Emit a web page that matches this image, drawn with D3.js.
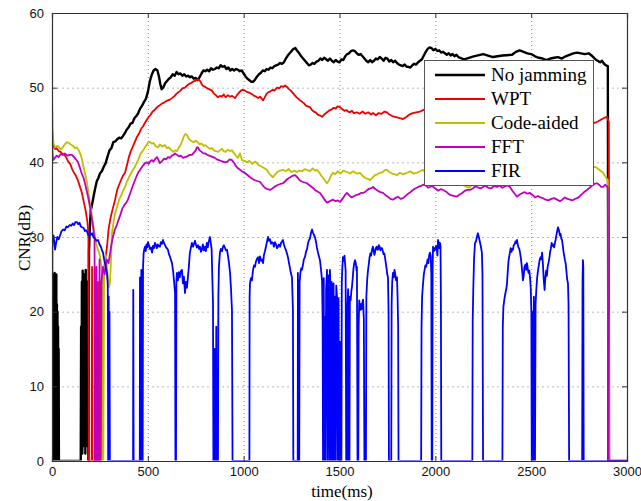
<!DOCTYPE html>
<html><head><meta charset="utf-8">
<script src="https://cdn.jsdelivr.net/npm/d3@7"></script>
<style>body{margin:0;background:#fff}svg{display:block}</style>
</head><body><svg id="c" width="641" height="501"></svg>
<script>
const xTicks=[0,500,1000,1500,2000,2500,3000];
const yTicks=[0,10,20,30,40,50,60];
const seriesNames=["No jamming","WPT","Code-aided","FFT","FIR"];
const seriesColors=["#000000","#ee0000","#bfbf00","#bf00bf","#0000ff"];

const noJamming=[[0,0],[1.5,22],[3,2],[4.5,24],[6,1],[7.5,25],[9,3],[10.5,23],[12,0],[13.5,25.2],[15,4],[16.5,24],[18,1],[19.5,22],[21,2],[22.5,25],[24,0],[25.5,21],[27,3],[28.5,20],[30,0],[31.5,18],[33,1],[34.5,15],[36,0],[150,0],[152,18],[154,2],[156,24],[158,1],[160,25.5],[162,3],[164,22],[166,2],[168,25],[170,4],[172,24],[174,1],[176,25.6],[178,3],[180,23],[182,2],[184,24],[186,5],[188,22],[190,0],[193,28],[197,31],[202,33.5],[210,34.5],[218,35.6],[226,36.6],[234,37.5],[242,37.9],[250,38.5],[260,38.8],[270,39.4],[280,39.9],[290,40.8],[300,41.6],[310,41.9],[320,42.7],[330,42.8],[340,43.1],[350,43.3],[360,43.2],[370,43.5],[380,43.9],[390,44.4],[400,44.7],[410,45.2],[420,45.3],[430,45.9],[440,46.2],[450,46.6],[460,47.2],[470,47.6],[480,48.1],[490,48.5],[500,49.4],[510,50.8],[520,51.7],[530,52.3],[540,52.5],[550,52.3],[558,51.5],[565,50.5],[572,49.8],[580,50],[590,50.6],[600,50.9],[610,51.2],[620,51.4],[630,51.8],[640,51.6],[650,52.1],[660,51.8],[670,51.9],[680,51.6],[690,51.8],[700,51.5],[710,51.6],[720,51.4],[730,51.5],[740,51.2],[750,51.3],[760,51],[770,51.4],[780,51.9],[790,52.3],[800,52.2],[810,52.4],[820,52.2],[830,52.6],[840,52.4],[850,52.5],[860,52.7],[870,52.6],[880,53],[890,52.8],[900,52.9],[910,52.5],[920,52.7],[930,52.3],[940,52.5],[950,52.3],[960,52.5],[970,52.4],[980,52.2],[990,52.3],[1000,51.9],[1010,51.5],[1020,51.2],[1030,51],[1040,50.8],[1050,50.8],[1060,51.1],[1070,51.5],[1080,51.8],[1090,52],[1100,52.3],[1110,52.2],[1120,52.5],[1130,52.4],[1140,52.7],[1150,52.6],[1160,52.9],[1170,53],[1180,53.1],[1190,53.3],[1200,53.2],[1210,53.4],[1220,53.9],[1230,54.3],[1240,54.6],[1250,54.9],[1260,55.2],[1270,55.3],[1280,54.9],[1290,54.6],[1300,54.2],[1310,53.9],[1320,53.6],[1330,53.3],[1340,53],[1350,53.1],[1360,53.3],[1370,53.2],[1380,53.5],[1390,53.6],[1400,53.9],[1410,53.7],[1420,54],[1430,53.8],[1440,53.6],[1450,53.9],[1460,53.6],[1470,53.4],[1480,53.7],[1490,53.5],[1500,53.4],[1510,53.8],[1520,53.7],[1530,54.2],[1540,54.5],[1550,54.6],[1560,54.9],[1570,55],[1580,54.9],[1590,54.6],[1600,54.4],[1610,54.5],[1620,54.2],[1630,53.9],[1640,53.6],[1650,53.4],[1660,53.7],[1670,53.4],[1680,53.6],[1690,53.9],[1700,53.8],[1710,54.1],[1720,53.9],[1730,53.6],[1740,54],[1750,53.9],[1760,53.5],[1770,53.7],[1780,53.4],[1790,53.6],[1800,53.3],[1810,53.1],[1820,53],[1830,52.9],[1840,53.1],[1850,52.8],[1860,52.8],[1870,52.7],[1880,53],[1890,53.2],[1900,53.1],[1910,53.4],[1920,53.6],[1930,53.8],[1940,54.3],[1950,54.8],[1960,55.2],[1970,55.4],[1980,55.3],[1990,55],[2000,55.2],[2010,54.9],[2020,55],[2030,54.7],[2040,54.8],[2050,54.6],[2060,54.4],[2070,54.6],[2080,54.3],[2090,54.5],[2100,54.2],[2110,54.4],[2120,54.1],[2150,53.8],[2200,54.2],[2250,54.5],[2300,54.1],[2350,54.3],[2400,54.4],[2420,54.8],[2440,55],[2460,54.8],[2480,54.6],[2500,54.5],[2520,54.2],[2540,54],[2560,53.9],[2580,53.7],[2600,53.9],[2620,54],[2640,54.1],[2660,53.9],[2680,54.2],[2700,54.4],[2720,54.6],[2740,54.7],[2760,54.6],[2780,54.5],[2800,54.6],[2820,54.2],[2840,53.7],[2860,53.4],[2870,53.6],[2880,53.2],[2890,53],[2900,52.9],[2903,0],[3000,0]];

const wpt=[[0,44.5],[5,42.3],[15,41.8],[25,41.9],[35,41.5],[45,41.4],[55,41.1],[65,41],[75,40.6],[85,40.1],[95,39.8],[105,39.1],[115,38.6],[125,38.2],[135,37.6],[145,36.8],[155,36],[165,34.8],[175,33.6],[185,32],[190,30.5],[192,0],[200,0],[207,0],[209,26],[211,0],[238,0],[240,24],[242,0],[250,0],[252,15],[258,20],[266,23],[276,26.5],[287,28.7],[295,31],[305,32.5],[315,33.6],[329,35],[340,36.3],[350,37],[360,37.6],[370,38.2],[381,38.6],[390,39.5],[400,40.6],[410,41.4],[420,42],[430,42.6],[443,43.4],[455,43.9],[465,44.5],[475,44.8],[485,45.3],[495,45.7],[505,46.1],[515,46.4],[525,46.8],[535,47],[545,47.3],[555,47.5],[565,47.7],[575,47.9],[585,48],[595,48.2],[605,48.3],[615,48.4],[626,48.6],[640,48.9],[650,49.2],[660,49.4],[670,49.6],[680,49.9],[694,50],[705,50.3],[715,50.5],[725,50.6],[735,50.8],[745,50.9],[755,51],[765,51.1],[775,50.8],[782,50.4],[790,50.2],[800,50.1],[810,49.9],[820,49.8],[835,49.6],[845,49.2],[855,49],[866,48.7],[876,48.9],[886,48.8],[896,49.1],[906,48.7],[918,49],[928,48.8],[940,48.9],[955,48.6],[965,49],[975,49.3],[985,49.6],[995,49.7],[1007,49.6],[1020,49.4],[1033,49.3],[1045,49.1],[1055,48.9],[1065,48.8],[1075,48.6],[1085,48.8],[1095,48.5],[1101,48.3],[1110,48.7],[1120,49.2],[1130,49.4],[1140,49.5],[1150,49.7],[1160,49.6],[1174,50],[1186,49.9],[1196,50.2],[1206,50.1],[1216,50.3],[1226,50.1],[1236,49.8],[1246,49.6],[1256,49.3],[1266,49],[1276,48.7],[1286,48.5],[1294,48.3],[1305,48.1],[1315,47.9],[1325,47.6],[1335,47.5],[1346,47.4],[1356,47],[1366,46.8],[1376,46.7],[1386,46.4],[1396,46.3],[1409,46.1],[1420,46.4],[1430,46.6],[1440,46.8],[1450,47],[1460,47.1],[1470,47.3],[1480,47.2],[1490,47.5],[1503,47.4],[1515,47.1],[1525,46.9],[1535,47],[1545,46.8],[1555,46.7],[1565,46.9],[1575,46.6],[1591,46.7],[1605,46.5],[1620,46.8],[1635,46.5],[1650,46.7],[1665,46.4],[1675,46.6],[1690,46.3],[1705,46.6],[1720,46.5],[1735,46.8],[1748,46.7],[1760,46.4],[1775,46.2],[1790,46.1],[1805,46],[1820,45.9],[1831,45.8],[1845,46],[1860,46.3],[1872,46.5],[1883,46.6],[1900,46.7],[1920,46.8],[1936,47],[1950,47.2],[1970,47],[2000,46.8],[2050,47],[2100,46.7],[2150,46.9],[2200,46.6],[2250,46.8],[2300,46.5],[2350,46.3],[2400,46.2],[2450,45.9],[2500,45.8],[2550,46],[2600,45.7],[2650,45.5],[2700,45.6],[2750,45.3],[2800,45.2],[2833,45.3],[2850,45.5],[2870,45.8],[2885,46],[2896,46.1],[2905,45.4],[2908,0],[3000,0]];

const codeAided=[[0,51],[2,44.6],[8,42.5],[16,42],[26,42.2],[36,42.1],[46,41.7],[56,42],[66,42.4],[78,42.7],[88,42.6],[98,42.4],[110,42.2],[120,41.9],[130,42],[140,41.6],[150,41],[157,40.3],[165,39.3],[175,38.2],[183,37.2],[192,35.6],[200,34.3],[209,32.7],[218,31.2],[226,29.8],[235,28.7],[250,27.5],[258,26],[262,25],[264,0],[268,0],[272,26],[280,27.6],[290,25],[298,23.3],[303,24],[308,27],[313,30.5],[320,31.8],[328,33],[339,34],[350,35],[360,35.5],[370,36.2],[381,36.7],[392,37.5],[402,38],[412,38.5],[422,39],[433,39.4],[443,40],[453,40.5],[463,41.2],[473,41.5],[485,42],[495,42.4],[505,42.8],[511,42.7],[520,42.5],[530,42.6],[540,42.2],[553,42],[563,42.4],[575,42.1],[590,42.3],[600,41.9],[610,42],[620,41.7],[632,41.4],[642,41.6],[652,41.5],[662,42],[672,42.4],[680,42.9],[688,43.5],[696,43.8],[704,43.7],[712,43.2],[720,43],[730,42.8],[740,42.7],[750,42.9],[760,42.7],[770,42.4],[780,42.5],[790,42.2],[800,42.3],[814,42],[825,41.8],[835,41.9],[845,41.6],[855,41.5],[866,41.4],[876,41.6],[886,41.8],[896,41.5],[906,41.4],[918,41.7],[928,41.5],[939,41.6],[950,41.2],[960,40.9],[970,40.6],[981,41.2],[991,40.3],[1005,40.2],[1017,40],[1030,40.2],[1045,39.8],[1058,40.1],[1069,39.9],[1080,39.6],[1095,39.4],[1108,39.2],[1121,39],[1130,38.6],[1140,38.3],[1153,38],[1165,38.4],[1175,38.7],[1190,38.9],[1205,39],[1220,38.8],[1235,39.1],[1250,38.7],[1265,38.9],[1278,38.7],[1290,38.9],[1305,38.8],[1318,39.1],[1330,39],[1345,38.8],[1360,39.2],[1372,38.9],[1383,39],[1395,38.6],[1405,38.2],[1415,37.9],[1425,37.5],[1435,37.2],[1445,37.6],[1455,38.2],[1466,38.6],[1478,38.4],[1490,38.8],[1505,38.5],[1520,38.9],[1539,38.7],[1555,38.5],[1570,38.8],[1590,38.5],[1607,38.6],[1620,38.2],[1635,37.9],[1648,37.8],[1659,37.6],[1670,37.9],[1685,38.3],[1698,38.4],[1711,38.6],[1725,38.7],[1737,39],[1748,39],[1760,38.7],[1775,38.5],[1789,38.4],[1800,38.3],[1815,38.6],[1830,38.4],[1852,38.6],[1870,38.8],[1885,38.5],[1904,38.6],[1920,38.8],[1936,39],[1950,38.6],[1965,38.4],[1980,38.2],[2050,38],[2100,37.6],[2150,36.9],[2175,36.6],[2200,37.2],[2250,37.8],[2300,38],[2400,38.2],[2500,38.3],[2600,38.1],[2700,38.5],[2800,39],[2820,39.3],[2833,39.4],[2845,39.2],[2860,38.9],[2875,38.6],[2890,38],[2900,37.6],[2905,0],[3000,0]];

const fft=[[0,51.5],[2,41.5],[5,40.3],[15,40.6],[25,40.9],[35,40.7],[45,41.1],[57,41],[67,41.2],[80,40.9],[92,41],[104,41],[115,40.7],[125,40.4],[136,40],[145,39.3],[155,38.5],[165,37.9],[172,37.2],[180,36.3],[188,35.4],[198,34],[207,32.6],[215,31.2],[222,29.8],[224,0],[230,0],[232,26],[234,0],[245,0],[248,27],[252,0],[255,0],[258,24],[265,26],[275,25],[285,27],[295,26.5],[303,27.8],[310,29],[318,30],[328,31],[338,31.6],[347,32.3],[357,33],[367,33.8],[378,34.3],[388,34.6],[396,35],[407,35.8],[418,36.6],[428,37.3],[439,38],[449,38.6],[460,39],[470,39.4],[485,39.9],[495,40],[505,39.8],[515,40.2],[522,40.3],[530,40.1],[540,40.5],[548,40.7],[556,40.3],[563,39.9],[575,40.2],[585,40.5],[595,40.4],[605,40.7],[615,40.6],[625,40.9],[635,41],[642,41.2],[652,41],[662,40.8],[672,40.9],[684,40.6],[694,40.7],[705,40.8],[718,41],[730,41],[740,41.3],[750,41.6],[756,42],[762,42],[770,41.6],[780,41.4],[790,41.2],[798,41.2],[810,41],[820,40.9],[830,40.8],[840,40.7],[850,40.6],[860,40.4],[870,40.3],[880,40.2],[892,40.1],[903,40],[915,40.1],[927,40.4],[939,40.3],[950,39.9],[960,39.5],[970,39.2],[981,39],[990,38.8],[1000,38.7],[1010,38.5],[1020,38.3],[1033,38],[1045,37.8],[1058,37.6],[1070,37.5],[1085,37.4],[1097,37],[1110,36.6],[1124,36.4],[1137,36.3],[1150,36.5],[1165,36.8],[1180,37],[1192,37.1],[1205,37.2],[1218,37.5],[1230,37.8],[1243,38],[1255,38.2],[1268,38.3],[1280,38],[1292,37.6],[1305,37.4],[1318,37.3],[1330,37.2],[1345,36.9],[1360,36.6],[1372,36.3],[1385,36.1],[1398,35.9],[1410,35.5],[1422,35],[1435,34.6],[1450,34.8],[1466,35],[1480,34.8],[1492,34.9],[1503,34.7],[1515,35.1],[1528,35.6],[1539,35.9],[1550,35.6],[1562,35.3],[1570,35.4],[1585,35.6],[1600,35.7],[1612,35.9],[1623,35.9],[1637,36.1],[1650,36.4],[1663,36.5],[1675,36.7],[1688,36.4],[1700,36.2],[1713,36],[1727,35.9],[1740,35.6],[1752,35.4],[1765,35.1],[1779,35],[1790,35.2],[1805,35.4],[1818,35.1],[1831,35.2],[1845,35.5],[1858,35.8],[1870,36],[1883,36.3],[1895,36.5],[1910,36.7],[1923,36.8],[1936,37],[1950,36.9],[1962,36.6],[1972,36.7],[1985,36.8],[2000,36.5],[2015,36.2],[2028,36.4],[2040,36.3],[2055,36.1],[2068,35.8],[2080,35.6],[2095,35.5],[2113,35.4],[2127,35.7],[2140,35.9],[2155,36.2],[2168,36.3],[2181,36.3],[2195,36.5],[2210,36.8],[2225,36.6],[2237,36.5],[2249,36.7],[2262,36.9],[2275,36.6],[2290,36.5],[2305,36.8],[2322,36.7],[2335,36.9],[2350,36.6],[2365,36.8],[2378,36.9],[2389,36.7],[2402,36.2],[2414,35.8],[2426,35.4],[2440,35.7],[2455,35.9],[2467,36],[2480,35.8],[2494,35.9],[2508,35.6],[2520,35.3],[2535,35.5],[2548,35.3],[2562,35.2],[2575,35],[2590,34.9],[2605,35.1],[2620,35.2],[2635,35],[2650,34.8],[2662,35],[2675,35.3],[2690,35.1],[2703,35],[2715,34.9],[2728,35.1],[2740,35.2],[2755,35.5],[2768,35.8],[2780,36.1],[2791,36.3],[2805,36.6],[2818,36.9],[2830,37.1],[2843,37.2],[2855,37],[2865,36.7],[2875,36.7],[2885,37],[2895,36.8],[2900,36.6],[2903,0],[3000,0]];

const fir=[[0,0],[2,29.9],[8,30.2],[13,29],[16,28.3],[22,29.3],[28,30],[35,29.7],[42,30.2],[50,30.8],[58,31],[66,30.9],[75,31.4],[83,31.3],[92,31.6],[100,31.5],[108,31.8],[115,31.6],[122,32],[130,32],[137,31.7],[144,31.9],[150,31.4],[157,31.3],[165,31.2],[172,30.8],[178,30.9],[183,30.7],[190,30.2],[197,30.6],[203,30.3],[209,30.5],[216,30],[224,29.8],[232,29.5],[240,29.6],[248,29],[255,28.7],[261,28.2],[266,27.9],[272,27],[277,26.4],[282,25.8],[287,25.2],[291,23.5],[293,0],[296,22],[298,0],[300,20],[302,0],[423,0],[424,22.9],[426,0],[458,0],[459,24.6],[461,0],[465,0],[466,25.6],[468,0],[473,0],[475,26],[478,27.8],[481,28.3],[485,28.7],[489,28.1],[493,29],[497,28.6],[501,29.3],[506,28.9],[511,28.4],[516,28.6],[522,27.9],[527,28.8],[532,28.5],[537,29.2],[542,28.9],[547,28.5],[552,29],[558,28.7],[563,28.7],[568,29.3],[574,29.1],[579,29.6],[584,29.2],[590,28.9],[595,28.6],[600,28.5],[605,28.3],[610,27.7],[615,27.4],[620,27],[626,26.5],[632,25.4],[637,24],[642,22.5],[644,0],[647,0],[649,24],[652,25.2],[657,24.2],[662,25.3],[667,24.6],[672,25.4],[678,25.6],[683,23.8],[688,24.7],[694,22.5],[698,24],[704,23.2],[709,24.6],[714,26],[719,27.8],[725,28.6],[730,29.2],[736,28.7],[741,29.1],[746,29.5],[751,29],[756,28.6],[762,28.9],[767,28.4],[772,28.7],[777,28],[782,28.3],[787,29],[792,28.2],[798,28.7],[803,28.1],[808,29.2],[813,28.6],[818,29.4],[824,30],[829,29.1],[833,28.3],[837,24],[840,21.2],[842,0],[846,0],[848,15],[850,0],[855,0],[857,18],[859,0],[866,0],[868,22],[871,26],[876,27.9],[881,28.4],[887,28.1],[892,28.7],[897,28.9],[903,28.5],[908,28.2],[913,28.3],[918,27.5],[923,26.6],[929,25.2],[934,23],[939,20.2],[942,0],[1030,0],[1031,22],[1033,23.8],[1038,24.5],[1043,24.2],[1049,25.6],[1054,26.2],[1059,26],[1064,26.7],[1070,27.1],[1075,27.3],[1080,26.5],[1085,27.4],[1091,26.8],[1096,27],[1101,26.5],[1106,27.6],[1111,28.1],[1117,28.8],[1122,29.4],[1127,30],[1132,29.5],[1137,29.7],[1143,29.1],[1148,29.3],[1153,29.2],[1158,28.7],[1163,29.3],[1169,29],[1174,28.5],[1179,28.7],[1184,29],[1190,28.7],[1195,29.2],[1200,29.4],[1205,29.6],[1210,29],[1215,28.6],[1221,28.2],[1226,27.8],[1231,27.3],[1236,26.6],[1241,25.9],[1246,25.2],[1252,24.6],[1255,22],[1257,20.2],[1259,0],[1282,0],[1283,25.2],[1285,0],[1290,0],[1292,24],[1296,25.2],[1300,25.8],[1304,25.6],[1309,26.2],[1314,27],[1320,27.3],[1325,28],[1331,28.4],[1336,29.2],[1341,29.6],[1346,29.8],[1350,30.4],[1354,30.8],[1357,31],[1361,30.6],[1366,30.3],[1372,30],[1377,29.4],[1382,28.6],[1388,27.9],[1393,27.4],[1398,26.9],[1403,25.8],[1409,24.2],[1412,19],[1414,0],[1416,22],[1418,24.5],[1420,0],[1424,19.3],[1427,0],[1430,23],[1435,25.6],[1438,0],[1441,22],[1445,24.9],[1448,0],[1450,25.6],[1453,23],[1456,0],[1459,24],[1462,22],[1464,0],[1466,22.5],[1469,23.8],[1471,0],[1474,20.5],[1477,22],[1479,0],[1483,23.5],[1487,22],[1490,0],[1492,20.2],[1495,21.8],[1498,0],[1502,16],[1505,0],[1510,0],[1512,24],[1515,26],[1518,27.3],[1522,26.8],[1526,27.5],[1529,26.5],[1532,25.5],[1535,0],[1540,0],[1542,21],[1545,23],[1548,0],[1552,0],[1554,22],[1558,21.5],[1562,22.8],[1565,23.3],[1569,24.5],[1573,25.8],[1577,26.5],[1581,26.9],[1585,26.5],[1589,25.5],[1591,26],[1594,0],[1598,0],[1600,18],[1603,21.5],[1607,20.2],[1611,21],[1615,20.3],[1619,21.2],[1623,21.6],[1627,19],[1630,0],[1638,0],[1640,22],[1645,24.5],[1649,25.6],[1653,26.4],[1657,27.3],[1661,27.8],[1665,27.5],[1670,28.3],[1674,28.7],[1678,28.2],[1682,27.6],[1685,27.9],[1689,28.5],[1694,28.7],[1698,28.3],[1701,28.3],[1705,28.9],[1709,28.7],[1713,28.2],[1717,28.5],[1722,28.5],[1726,28.1],[1730,27.7],[1734,27.8],[1737,27.3],[1741,26.6],[1745,25.9],[1749,25],[1753,24.6],[1756,20],[1758,0],[1770,0],[1772,21],[1775,24],[1779,25.2],[1783,24.6],[1787,25.6],[1791,25],[1795,24.2],[1800,24.6],[1803,22],[1806,18],[1808,0],[1926,0],[1928,18],[1931,22],[1936,23.8],[1940,25],[1944,25.6],[1948,26.2],[1952,26],[1956,26.5],[1960,27],[1964,26.5],[1968,27.6],[1972,27.9],[1976,27.5],[1979,25],[1981,0],[1984,0],[1986,26],[1988,28.7],[1992,28.1],[1996,28.5],[2000,28.3],[2004,28.8],[2008,28.3],[2011,27.5],[2014,29.6],[2018,29.2],[2021,28.5],[2024,29.2],[2027,28.8],[2029,22],[2031,0],[2193,0],[2195,19],[2198,23],[2202,27],[2207,29.2],[2212,29.4],[2217,30],[2222,30.5],[2227,30],[2232,29.4],[2237,28.8],[2241,28.2],[2243,27.9],[2246,25],[2249,0],[2350,0],[2352,18],[2355,20.6],[2360,21.6],[2365,22.4],[2370,23],[2374,23.8],[2378,25.5],[2382,26.8],[2386,27.5],[2389,27.9],[2393,28.5],[2397,28],[2401,28.4],[2405,28.3],[2409,28.9],[2413,29],[2418,29.4],[2422,29.2],[2426,29.6],[2430,29],[2434,28.6],[2438,28.4],[2442,27.9],[2446,27.2],[2450,26.3],[2454,25.2],[2457,24.2],[2461,24.8],[2465,26],[2470,26.3],[2474,25.6],[2478,26.5],[2482,25.8],[2486,25.2],[2490,25.5],[2494,24.6],[2498,23],[2501,20],[2503,0],[2506,0],[2508,20],[2511,0],[2514,22],[2516,0],[2520,0],[2523,21],[2527,23],[2531,24.5],[2536,25.6],[2540,26.2],[2544,26.9],[2549,27.3],[2553,27],[2557,27.9],[2561,26.5],[2565,24.5],[2570,22.9],[2574,24.5],[2578,25.5],[2582,24.8],[2586,26],[2590,26.5],[2595,27.2],[2599,28],[2603,28.5],[2607,29.2],[2611,28.8],[2616,29],[2620,28.6],[2624,29.2],[2628,29.7],[2632,30.3],[2636,30.8],[2640,31.3],[2645,30.9],[2650,30.2],[2654,30.4],[2657,29.8],[2661,29.6],[2665,28.8],[2669,28],[2673,27.4],[2676,26.9],[2680,26.5],[2684,25.4],[2688,24.3],[2692,23.8],[2695,21],[2698,0],[2766,0],[2768,24],[2770,26.9],[2772,26],[2774,0],[2900,0],[3000,0]];

const allSeries=[noJamming,wpt,codeAided,fft,fir];
const widths=[2.4,1.8,1.8,1.8,1.8];

const svg=d3.select("#c");
const L=52,R=627,T=13,B=461;
const x=d3.scaleLinear().domain([0,3000]).range([L,R]);
const y=d3.scaleLinear().domain([0,60]).range([B,T]);

svg.append("defs").append("clipPath").attr("id","clip").append("rect")
  .attr("x",L).attr("y",T-1).attr("width",R-L).attr("height",B-T+0.5);

// grid
const g=svg.append("g");
g.selectAll(".vg").data(xTicks.slice(1,-1)).enter().append("line")
  .attr("x1",d=>x(d)+0.5).attr("x2",d=>x(d)+0.5).attr("y1",T).attr("y2",B)
  .attr("stroke","#888").attr("stroke-width",1).attr("stroke-dasharray","1,3");
g.selectAll(".hg").data(yTicks.slice(1,-1)).enter().append("line")
  .attr("y1",d=>y(d)+0.5).attr("y2",d=>y(d)+0.5).attr("x1",L).attr("x2",R)
  .attr("stroke","#bbb").attr("stroke-width",1).attr("stroke-dasharray","2,3");

// series
const line=d3.line().x(d=>x(d[0])).y(d=>y(d[1]));
const lg=svg.append("g").attr("clip-path","url(#clip)");
allSeries.forEach((s,i)=>{
  lg.append("path").datum(s).attr("d",line).attr("fill","none")
    .attr("stroke",seriesColors[i]).attr("stroke-width",widths[i]).attr("stroke-linejoin","round");
});

// axes
const ax=svg.append("g");
ax.append("g").attr("transform",`translate(0,${B})`)
  .call(d3.axisBottom(x).tickValues(xTicks).tickSize(-5).tickPadding(6).tickFormat(d3.format("d")));
ax.append("g").attr("transform",`translate(0,${T})`)
  .call(d3.axisTop(x).tickValues(xTicks).tickSize(-5).tickFormat(""));
ax.append("g").attr("transform",`translate(${L},0)`)
  .call(d3.axisLeft(y).tickValues(yTicks).tickSize(-5).tickPadding(8).tickFormat(d3.format("d")));
ax.append("g").attr("transform",`translate(${R},0)`)
  .call(d3.axisRight(y).tickValues(yTicks).tickSize(-5).tickFormat(""));
ax.selectAll(".domain").attr("stroke","#333").attr("stroke-width",1.2);
ax.selectAll(".tick line").attr("stroke","#333");
ax.selectAll(".tick text").attr("font-family","'Liberation Sans',Arial,sans-serif").attr("font-size",13).attr("fill","#111");

// axis labels
svg.append("text").attr("x",342).attr("y",497).attr("text-anchor","middle")
  .attr("font-family","'Liberation Serif','Times New Roman',serif").attr("font-size",17).text("time(ms)");
svg.append("text").attr("transform","translate(30,238) rotate(-90)").attr("text-anchor","middle")
  .attr("font-family","'Liberation Serif','Times New Roman',serif").attr("font-size",17).text("CNR(dB)");

// legend
const leg=svg.append("g");
leg.append("rect").attr("x",424.5).attr("y",60.5).attr("width",169).attr("height",125)
  .attr("fill","#fff").attr("stroke","#555").attr("stroke-width",1);
seriesNames.forEach((n,i)=>{
  const yy=75+i*24;
  leg.append("line").attr("x1",435).attr("x2",485).attr("y1",yy).attr("y2",yy)
    .attr("stroke",seriesColors[i]).attr("stroke-width",widths[i]);
  leg.append("text").attr("x",491).attr("y",yy+6).attr("font-family","'Liberation Serif','Times New Roman',serif")
    .attr("font-size",19).attr("fill","#000").text(n);
});
</script></body></html>
